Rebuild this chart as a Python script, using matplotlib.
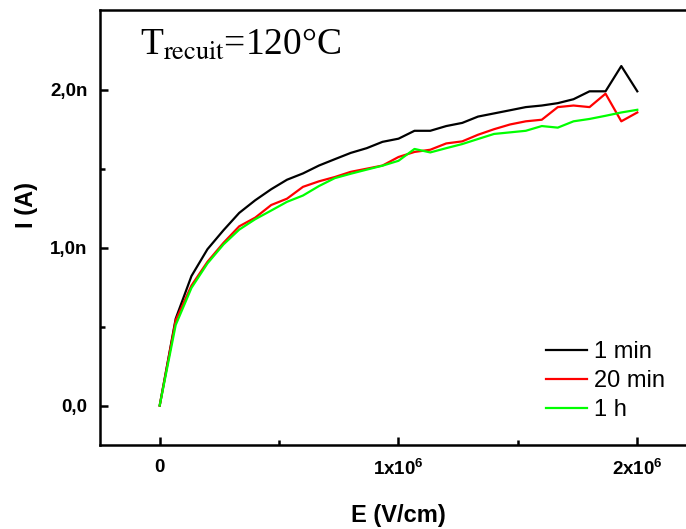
import matplotlib
matplotlib.use("Agg")
import matplotlib.pyplot as plt
from matplotlib.ticker import FixedLocator, FuncFormatter

# field values (x1e6 V/cm)
E_field = [0.000, 0.067, 0.133, 0.200, 0.267, 0.333, 0.400, 0.467, 0.533, 0.600,
           0.667, 0.733, 0.800, 0.867, 0.933, 1.000, 1.067, 1.133, 1.200, 1.267,
           1.333, 1.400, 1.467, 1.533, 1.600, 1.667, 1.733, 1.800, 1.867, 1.933, 2.000]

# current (nA) for each annealing time
I_1min = [0, 0.55, 0.82, 0.99, 1.11, 1.22, 1.30, 1.37, 1.43, 1.47,
          1.52, 1.56, 1.60, 1.63, 1.67, 1.69, 1.74, 1.74, 1.77, 1.79,
          1.83, 1.85, 1.87, 1.89, 1.90, 1.915, 1.94, 1.99, 1.99, 2.15, 1.99]
I_20min = [0, 0.54, 0.76, 0.91, 1.03, 1.135, 1.19, 1.27, 1.31, 1.385,
           1.42, 1.447, 1.48, 1.50, 1.52, 1.574, 1.606, 1.62, 1.66, 1.673,
           1.715, 1.75, 1.78, 1.80, 1.81, 1.89, 1.90, 1.89, 1.975, 1.80, 1.856]
I_1h = [0, 0.51, 0.745, 0.90, 1.02, 1.114, 1.18, 1.235, 1.29, 1.33,
        1.39, 1.44, 1.468, 1.494, 1.519, 1.55, 1.625, 1.603, 1.63, 1.656,
        1.688, 1.72, 1.73, 1.74, 1.77, 1.76, 1.80, 1.815, 1.835, 1.856, 1.873]

series = [("1 min", I_1min, "black"),
          ("20 min", I_20min, "#ff0000"),
          ("1 h", I_1h, "#00ff00")]

plt.rcParams['font.family'] = ['Liberation Sans', 'DejaVu Sans']
plt.rcParams['mathtext.default'] = 'regular'

fig = plt.figure(figsize=(6.86, 5.29), dpi=100)
W, H = 686, 529
ax = fig.add_axes([100 / W, (H - 445) / H, 597 / W, 435 / H])

for label, vals, col in series:
    ax.plot(E_field, vals, color=col, lw=1.6, label=label)

ax.set_xlim(-0.25, 2.25)
ax.set_ylim(-0.25, 2.505)

ax.xaxis.set_major_locator(FixedLocator([0, 1, 2]))
ax.xaxis.set_minor_locator(FixedLocator([0.5, 1.5]))
ax.yaxis.set_major_locator(FixedLocator([0, 1, 2]))
ax.yaxis.set_minor_locator(FixedLocator([0.5, 1.5]))

xlabels = {0: "0", 1: "1x10$^{6}$", 2: "2x10$^{6}$"}
ylabels = {0: "0,0", 1: "1,0n", 2: "2,0n"}
ax.xaxis.set_major_formatter(FuncFormatter(lambda v, p: xlabels.get(int(round(v)), "")))
ax.yaxis.set_major_formatter(FuncFormatter(lambda v, p: ylabels.get(int(round(v)), "")))

ax.tick_params(which='both', direction='in', width=1.8, labelsize=13.5, top=False, right=False)
ax.tick_params(which='major', length=6)
ax.tick_params(axis='x', which='major', pad=10)
ax.tick_params(axis='y', which='major', pad=9)
ax.tick_params(which='minor', length=3.5)
for lab in ax.get_xticklabels() + ax.get_yticklabels():
    lab.set_fontweight('bold')

for sp in ax.spines.values():
    sp.set_linewidth(1.8)

ax.set_xlabel("E (V/cm)", fontsize=17, fontweight='bold')
ax.set_ylabel("I (A)", fontsize=17, fontweight='bold')
ax.xaxis.set_label_coords((398 - 100) / 597, -(504 - 445) / 435)
ax.yaxis.set_label_coords(-(100 - 38) / 597, (445 - 205) / 435)

fig.text(140 / W, 1 - 55 / H, r"T$_{\mathrm{recuit}}$=120°C", fontsize=27,
         family='Liberation Serif', va='baseline', ha='left',
         math_fontfamily='stix')

leg = fig.legend(loc='upper left', bbox_to_anchor=(546 / W, 1 - 341 / H),
                 frameon=False, fontsize=17, handlelength=1.75, handletextpad=0.3,
                 borderpad=0, borderaxespad=0, labelspacing=0.3)

fig.savefig("out.png", dpi=100)
